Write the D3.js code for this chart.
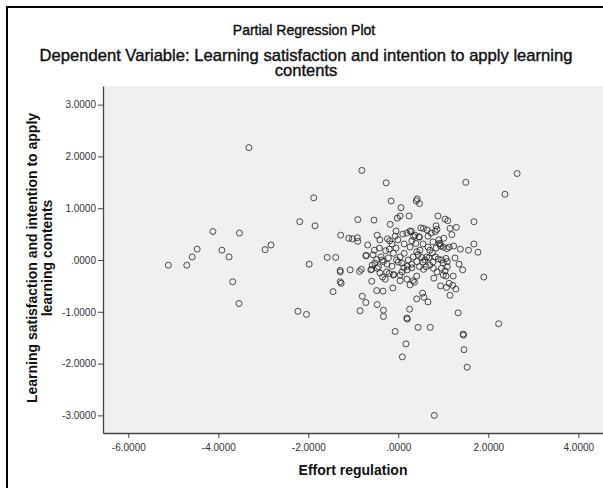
<!DOCTYPE html>
<html>
<head>
<meta charset="utf-8">
<script src="https://d3js.org/d3.v7.min.js"></script>
<style>
  body { margin: 0; background: #fff; }
  text { font-family: "Liberation Sans", Arial, sans-serif; }
</style>
</head>
<body>
<div id="chart"></div>
<script>
// effort regulation (x) and learning satisfaction (y) residuals
const effortX = [
  -5.11,-4.70,-4.58,-4.47,-4.12,-3.92,-3.76,-3.68,-3.54,-3.53,-3.32,-2.96,-2.83,-2.23,-2.04,-2.19,
  -1.98,-1.88,-1.85,-1.58,-1.39,-1.28,-1.29,-1.29,-1.29,-1.27,-1.45,-1.07,-1.02,-0.91,-0.90,-0.90,
  -0.81,-0.54,-0.27,-0.47,-0.18,-0.16,0.06,-0.02,0.04,0.24,0.42,0.40,0.47,0.88,1.04,1.10,1.68,1.50,
  2.64,2.37,0.50,0.56,0.84,0.86,1.29,1.15,1.19,-0.05,0.19,0.26,-0.24,-0.19,0.34,0.46,0.66,0.73,0.82,
  0.90,0.93,1.23,1.38,1.56,1.68,1.77,-0.71,-0.53,-0.56,-0.42,-0.38,-0.48,-0.86,-0.82,-0.59,-0.59,
  -0.48,-0.34,-0.12,-0.80,-0.72,-0.85,-0.47,-0.33,-0.33,-0.07,0.17,0.09,0.25,0.19,0.20,-0.35,-0.29,
  0.04,0.26,-0.41,-0.26,-0.10,0.08,-0.52,-0.44,-0.33,-0.22,-0.04,0.08,0.20,0.30,0.22,0.13,0.04,-0.05,
  -0.11,-0.20,-0.28,0.10,0.29,0.37,0.47,0.30,0.39,0.26,0.91,0.94,1.00,1.08,1.13,0.70,0.76,0.82,0.89,
  0.96,1.06,1.09,1.00,0.41,0.44,0.52,0.63,0.59,0.33,0.41,0.30,1.43,1.90,0.96,1.04,1.09,1.00,1.06,1.22,
  0.79,0.41,0.33,0.62,0.56,0.47,0.70,0.78,0.94,1.07,1.13,1.21,1.28,1.15,0.54,0.57,0.41,0.66,1.33,2.23,
  0.44,0.71,1.44,1.45,1.46,1.53,0.80,-0.20,-0.11,0.04,0.20,0.19,0.36,-0.58,-0.47,-0.36,-0.72,-0.61,
  -1.10,-0.14,-0.01,0.13,0.55,0.66,0.77,0.48,0.84,0.00,-0.14,0.68,0.77,0.55,-0.25,0.12,-0.07,0.64,1.01,
  1.26,1.35,0.86,-0.68,-0.41
];
const satisfactionY = [
  -0.10,-0.10,0.06,0.21,0.55,0.19,0.06,-0.42,-0.84,0.52,2.17,0.20,0.29,-0.99,-1.05,0.74,
  -0.08,1.20,0.66,0.05,0.05,0.48,-0.20,-0.23,-0.42,-0.45,-0.61,-0.19,0.41,0.43,0.36,0.78,
  1.73,0.77,1.49,0.48,0.69,1.14,1.01,0.81,0.85,0.85,1.18,1.14,1.09,0.85,0.79,0.76,0.74,1.50,
  1.67,1.27,0.62,0.61,0.66,0.59,0.63,0.61,0.49,0.56,0.52,0.56,0.41,0.37,0.45,0.45,0.46,0.52,0.55,
  0.39,0.31,0.27,0.21,0.19,0.31,0.15,0.09,0.19,0.10,0.23,0.06,0.01,-0.22,-0.18,-0.18,-0.41,
  -0.59,-0.60,-0.54,-0.70,-0.82,-0.98,-0.86,-0.97,-1.09,-1.38,-1.62,-1.87,-0.95,-1.12,-1.14,-0.33,-0.37,
  -0.40,-0.48,-0.25,-0.23,-0.28,-0.23,-0.06,-0.13,-0.03,0.04,0.00,-0.06,-0.12,-0.08,0.00,0.13,0.06,0.23,
  0.13,0.21,0.18,0.50,0.55,0.48,0.44,0.37,0.32,0.25,0.32,0.27,0.25,0.22,0.25,0.19,0.14,0.06,0.02,
  0.00,0.03,-0.03,-0.06,0.16,0.10,0.05,0.06,0.00,0.06,-0.03,-0.15,-0.19,-0.33,-0.16,-0.21,-0.13,-0.29,-0.31,-0.31,
  -0.35,-0.31,-0.40,-0.13,-0.18,-0.13,-0.10,-0.16,-0.50,-0.53,-0.45,-0.49,-0.56,-0.68,-0.64,-0.72,-0.75,-0.81,-1.02,-1.23,
  -1.30,-1.30,-1.43,-1.45,-1.73,-2.07,-3.00,-0.26,-0.29,-0.29,-0.19,-0.37,-0.43,-0.10,-0.16,0.00,0.08,-0.19,
  0.42,0.31,0.39,0.31,0.31,0.25,0.35,0.19,0.23,-0.04,-0.12,0.04,-0.04,-0.04,-0.08,-0.15,0.46,0.58,0.42,
  0.04,-0.08,-0.23,0.29,0.39
];
const xTicks = [-6, -4, -2, 0, 2, 4];
const yTicks = [3, 2, 1, 0, -1, -2, -3];
// SPSS style: plain hyphen, no leading zero
const fmt = v => v === 0 ? ".0000" : (v < 0 ? "-" : "") + Math.abs(v).toFixed(4);

const width = 603, height = 488;
const plotL = 103, plotR = 603, plotT = 86, plotB = 433;

const svg = d3.select("#chart").append("svg")
  .attr("width", width).attr("height", height);

// outer frame (only top/left visible in the crop)
svg.append("path")
  .attr("d", `M7,${height + 5} V7 H${width + 5}`)
  .attr("fill", "none").attr("stroke", "#000").attr("stroke-width", 2);

const x = d3.scaleLinear().domain([-6.562, 4.549]).range([plotL, plotR]);
const y = d3.scaleLinear().domain([-3.34, 3.36]).range([plotB, plotT]);

svg.append("rect")
  .attr("x", plotL).attr("y", plotT)
  .attr("width", plotR - plotL + 5).attr("height", plotB - plotT)
  .attr("fill", "#f0f0f0");

const xAxis = svg.append("g")
  .attr("transform", `translate(0,${plotB})`)
  .call(d3.axisBottom(x).tickValues(xTicks).tickFormat(fmt).tickSize(5).tickSizeOuter(0));
const yAxis = svg.append("g")
  .attr("transform", `translate(${plotL},0)`)
  .call(d3.axisLeft(y).tickValues(yTicks).tickFormat(fmt).tickSize(5).tickSizeOuter(0));

[xAxis, yAxis].forEach(g => {
  g.select(".domain").attr("stroke", "#444").attr("stroke-width", 1.3);
  g.selectAll(".tick line").attr("stroke", "#444");
  g.selectAll(".tick text").attr("fill", "#333")
    .style("font-family", "'Liberation Sans', Arial, sans-serif").style("font-size", "10px");
});
xAxis.selectAll(".tick text").attr("dy", "0.71em").attr("y", 11);
yAxis.selectAll(".tick text").attr("x", -7);

const pts = effortX.map((v, i) => [v, satisfactionY[i]]);
svg.append("g").selectAll("circle")
  .data(pts).enter().append("circle")
  .attr("cx", d => x(d[0]))
  .attr("cy", d => y(d[1]))
  .attr("r", 3)
  .attr("fill", "none")
  .attr("stroke", "#222")
  .attr("stroke-opacity", 0.8)
  .attr("stroke-width", 1);

// titles (regular face, thickened a touch like the SPSS output)
const title = (txt, ty, size) => svg.append("text")
  .attr("x", 306).attr("y", ty).attr("text-anchor", "middle")
  .style("font-size", size + "px").attr("fill", "#111")
  .attr("stroke", "#111").attr("stroke-width", 0.4)
  .text(txt);
title("Partial Regression Plot", 35, 14).attr("x", 304);
title("Dependent Variable: Learning satisfaction and intention to apply learning", 61, 16.6);
title("contents", 76, 16.6);

svg.append("text").attr("x", 353).attr("y", 475).attr("text-anchor", "middle")
  .style("font-size", "14px").style("font-weight", "bold").attr("fill", "#111")
  .text("Effort regulation");

const yTitle = svg.append("text")
  .attr("transform", "translate(0,258) rotate(-90)")
  .attr("text-anchor", "middle")
  .style("font-size", "14px").style("font-weight", "bold").attr("fill", "#111");
yTitle.append("tspan").attr("x", 0).attr("y", 37).text("Learning satisfaction and intention to apply");
yTitle.append("tspan").attr("x", 0).attr("y", 52).text("learning contents");
</script>
</body>
</html>
